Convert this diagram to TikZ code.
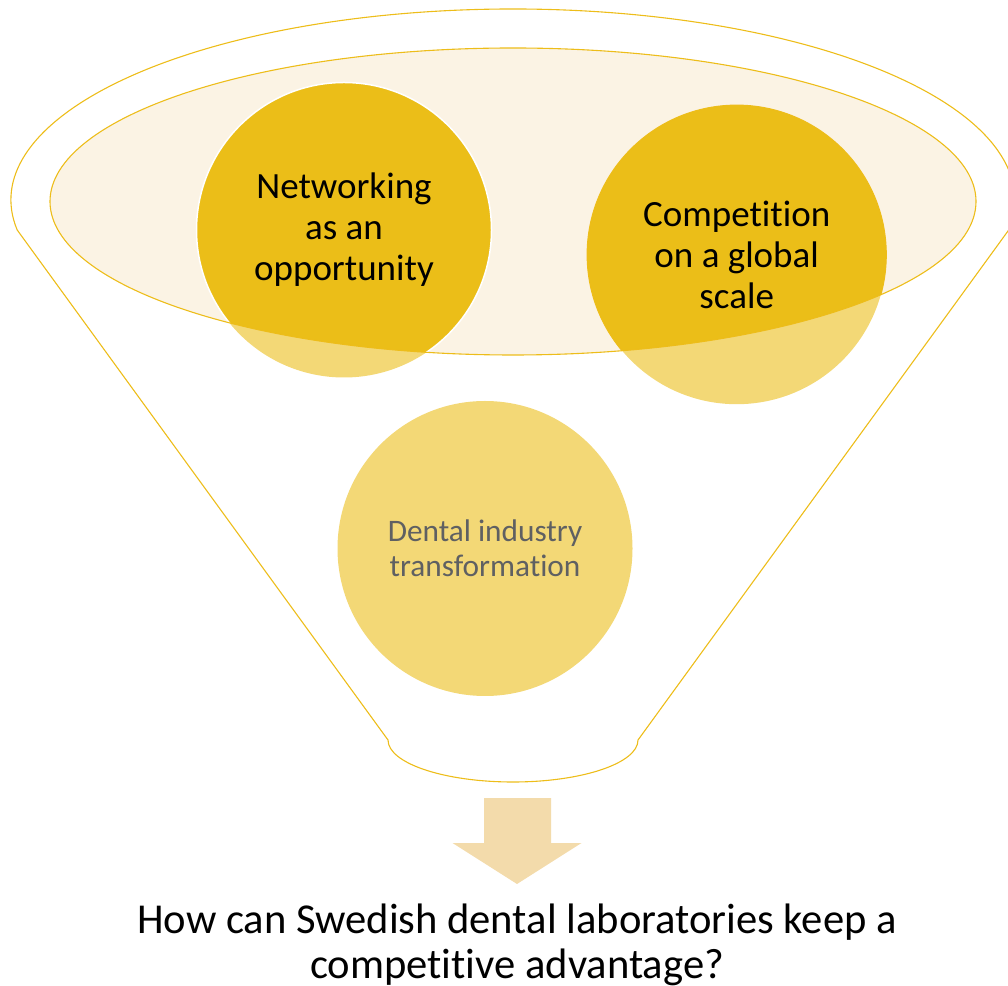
\documentclass[tikz,border=0pt]{standalone}
\usepackage{fontspec}
\setmainfont{Carlito}[RawFeature=-liga]
\usepackage{tikz}
\usetikzlibrary{positioning}

\definecolor{gold}{HTML}{EBBE18}
\definecolor{palegold}{HTML}{F3D876}
\definecolor{cream}{HTML}{FBF3E4}
\definecolor{rimline}{HTML}{EDBD1A}
\definecolor{tan}{HTML}{F3DBAB}
\definecolor{greytext}{HTML}{5F6062}

\tikzset{
  rim/.style={draw=rimline,line width=1.1pt},
  bigtext/.style={align=center,inner sep=0pt,font=\fontsize{37}{41}\selectfont},
  smalltext/.style={align=center,inner sep=0pt,text=greytext,font=\fontsize{31.3}{35}\selectfont},
  question/.style={anchor=base,inner sep=0pt,font=\fontsize{42.6}{45}\selectfont}
}

\begin{document}
\begin{tikzpicture}[x=1pt,y=1pt]
  \useasboundingbox (0,0) rectangle (1008,985);
  \coordinate (top) at (513,785);
  \coordinate (bowl) at (513,783.5);
  \coordinate (net) at (344,755);
  \coordinate (comp) at (736.7,730.3);
  \coordinate (dent) at (485,436.5);
  % funnel outline
  \draw[rim] (17.2,755) arc[start angle=189.04,end angle=-9.04,x radius=502,y radius=191]
    -- (638,245) arc[start angle=0,end angle=-180,x radius=125,y radius=42] -- cycle;
  \fill[cream] (bowl) ellipse [x radius=463,y radius=153.5];
  % balls, darker where they sit in the bowl
  \fill[palegold] (net) circle (147.5);
  \fill[palegold] (comp) circle (149.5);
  \fill[palegold] (dent) circle (147.5);
  \begin{scope}
    \clip (bowl) ellipse [x radius=463,y radius=153.5];
    \fill[gold,draw=white,line width=1.5pt] (net) circle (147.5);
    \fill[gold,draw=rimline,line width=1.2pt] (comp) circle (149.5);
  \end{scope}
  \draw[rim] (bowl) ellipse [x radius=463,y radius=153.5];
  \node[bigtext] (netlabel) at (net) {Networking\\as an\\opportunity};
  \node[bigtext] (complabel) at (comp) {Competition\\on a global\\scale};
  \node[smalltext] (dentlabel) at (dent) {Dental industry\\transformation};
  % arrow out of the funnel
  \fill[tan] (484,187) -- (551,187) -- (551,142) -- (581.5,142) -- (517,101)
    -- (452.5,142) -- (484,142) -- cycle;
  \node[question] (q1) at (517,52) {How can Swedish dental laboratories keep a};
  \node[question] (q2) at (517,7) {competitive advantage?};
\end{tikzpicture}
\end{document}
